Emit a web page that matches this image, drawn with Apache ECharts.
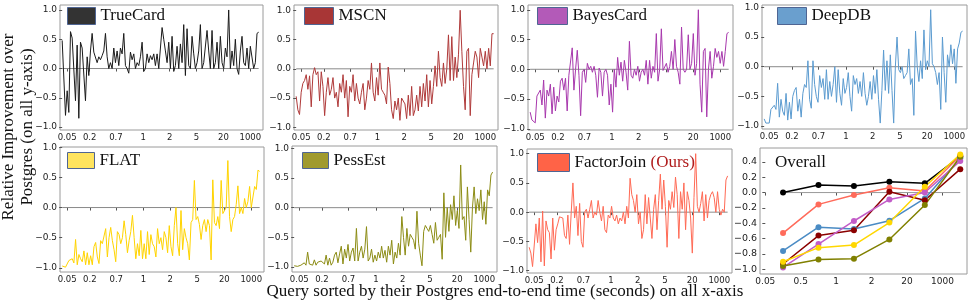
<!DOCTYPE html>
<html><head><meta charset="utf-8">
<script src="https://cdn.jsdelivr.net/npm/echarts@6/dist/echarts.min.js"></script>
<style>html,body{margin:0;padding:0;background:#fff}#c{width:970px;height:302px}</style>
</head><body><div id="c"></div>
<script>
// ---------------- data ----------------
const xTickPos = [3, 16.5, 32.3, 48.6, 64.6, 80.7, 96.9, 113];
const xTickLabels = ['0.05', '0.2', '0.7', '1', '2', '5', '20', '1000'];
const yTicks = [-1, -0.5, 0, 0.5, 1];

const overallTickPos = [0, 1, 2, 3, 4, 5];
const overallTickLabels = ['0.05', '0.5', '1', '2', '20', '1000'];
const overallX = [0.5, 1.5, 2.5, 3.5, 4.5, 5.5];
const overallYTicks = [-1, -0.8, -0.6, -0.4, -0.2, 0, 0.2, 0.4];

const trueCard = [
 0.48, 0.45, -0.8, -0.38, -0.75, 0.63, 0.52, 0.5, -0.55, 0.4,
 -0.85, 0.45, 0.35, 0.38, -0.55, 0.2, -0.12, 0.3, 0.6, 0.28,
 0.25, 0.1, 0.2, 0.15, 0.22, 0.3, 0.6, 0.2, 0.0, 0.1,
 0.0, 0.35, 0.1, 0.3, 0.05, 0.35, 0.25, 0.6, 0.05, 0.0,
 -0.08, 0.28, 0.15, 0.25, 0.0, 0.1, 0.05, 0.2, 0.45, -0.05,
 0.0, 0.25, 0.1, 0.22, 0.15, 0.25, 0.05, 0.25, 0.0, -0.02,
 0.7, 0.5, 0.3, 0.1, 0.45, 0.0, 0.55, -0.05, 0.05, 0.38,
 0.0, 0.42, 0.1, 0.75, -0.12, 0.68, 0.05, 0.0, 0.55, 0.25,
 0.0, 0.1, 0.3, 0.75, 0.0, 0.1, 0.1, 0.65, 0.3, 0.0,
 0.65, 0.0, 0.1, 0.45, 0.0, 0.55, 0.1, 0.0, 0.35, 0.2,
 1.0, 0.0, 0.3, 0.05, 0.5, 0.0, -0.1, 0.3, 0.55, 0.1,
 0.05, 0.35, 0.0, 0.38, 0.35, 0.0, 0.1, 0.6, 0.62
];
const mscn = [
 -0.47, -0.7, -0.78, -0.4, -0.25, -0.2, -0.1, -0.35, -0.12, -0.65,
 -0.1, 0.02, -0.1, -0.05, -0.55, -0.05, -0.3, -0.8, -0.4, -0.15,
 -0.45, -0.35, -0.15, -0.5, -0.4, -0.65, -0.25, -0.4, -0.1, -0.5,
 -0.2, -0.82, -0.3, -0.4, -0.1, -0.55, -0.25, -0.5, -0.6, -0.4,
 -0.25, -0.7, -0.5, -0.2, -0.35, 0.1, -0.4, -0.55, -0.15, -0.45,
 0.1, -0.35, -0.4, -0.45, -0.6, 0.03, -0.25, -0.7, -0.85, -0.55,
 -0.7, -0.5, -0.88, -0.5, -0.55, -0.6, -0.85, -0.45, -0.8, -0.3,
 -0.8, -0.7, -0.45, -0.72, -0.3, -0.65, -0.25, -0.55, -0.1, -0.65,
 -0.2, -0.6, -0.3, 0.05, -0.3, 0.3, -0.15, -0.3, 0.1, -0.25,
 0.0, 0.58, -0.2, 0.55, -0.2, 0.2, -0.15, 0.25, 1.0, 0.3,
 -0.3, -0.7, 0.3, 0.35, -0.8, -0.1, 0.1, 0.3, 0.2, -0.15,
 0.35, 0.2, 0.05, 0.3, 0.0, 0.35, 0.05, 0.6, 0.6
];
const bayesCard = [
 -0.72, -0.85, -0.87, -0.9, -0.45, -0.42, -0.35, -0.6, -0.18, -0.82,
 -0.35, -0.45, -0.25, -0.75, -0.3, -0.7, -0.45, -0.55, -0.2, -0.15,
 -0.35, -0.15, -0.7, -0.1, -0.12, 0.36, -0.35, 0.0, 0.32, -0.1,
 -0.78, -0.05, 0.0, -0.22, 0.1, 0.0, 0.05, -0.05, 0.05, -0.1,
 -0.47, 0.02, -0.05, -0.45, -0.05, 0.0, -0.1, -0.6, -0.25, -0.72,
 0.0, -0.3, 0.2, -0.1, 0.12, -0.2, 0.15, -0.05, -0.35, 0.47,
 -0.1, -0.15, 0.0, -0.1, 0.05, -0.2, -0.05, 0.0, -0.1, 0.15,
 -0.25, 0.15, -0.15, 0.05, -0.05, 0.6, -0.2, 0.0, 0.68, -0.02,
 0.0, 0.1, -0.05, 0.05, 0.3, 0.0, 0.5, 0.05, -0.05, -0.25,
 0.71, 0.0, -0.05, 0.0, 0.58, 0.0, 0.1, 0.6, -0.1, 0.1,
 1.0, -0.25, -0.72, 0.3, 0.35, -0.8, 0.0, 0.3, -0.15, 0.05,
 0.35, 0.2, 0.3, 0.1, 0.3, 0.05, 0.3, 0.6, 0.62
];
const deepDB = [
 -0.88, -0.95, -0.97, -0.95, -0.72, -0.7, -0.65, -0.72, -0.28, -0.85,
 -0.55, -0.75, -0.82, -0.45, -0.9, -0.6, -0.88, -0.5, -0.4, -0.35,
 -0.75, -0.55, -0.85, -0.45, -0.3, -0.35, 0.1, -0.55, -0.7, 0.1,
 -0.3, -0.5, -0.6, -0.15, -0.35, -0.2, -0.55, -0.05, -0.55, -0.25,
 -0.5, -0.3, 0.0, -0.6, -0.05, -0.45, -0.65, -0.2, -0.45, -0.35,
 -0.1, -0.5, -0.75, -0.15, -0.3, -0.2, -0.45, -0.25, -0.5, -0.1,
 -0.45, -0.65, -0.5, -0.25, -0.55, -0.15, -0.45, -0.05, -0.55, -0.95,
 -0.4, 0.28, -0.4, 0.1, -0.45, 0.2, -0.4, -0.95, 0.0, 0.5,
 -0.05, -0.1, 0.0, -0.2, -0.15, -0.1, 0.3, -0.3, -0.2, -0.82,
 0.6, 0.0, -0.25, 0.1, -0.2, 0.62, -0.05, 0.1, 0.0, 0.96,
 0.05, 0.0, -0.1, -0.3, -0.1, -0.72, 0.5, -0.1, -0.6, 0.2,
 0.0, 0.37, 0.05, 0.3, -0.28, 0.3, 0.4, 0.58, 0.6
];
const flat = [
 -0.97, -0.98, -0.99, -0.98, -0.88, -0.87, -0.85, -0.92, -0.53, -0.95,
 -0.78, -0.85, -0.9, -0.72, -0.95, -0.75, -0.95, -0.8, -0.95, -0.65,
 -0.58, -0.82, -0.93, -0.55, -0.6, -0.58, -0.35, -0.82, -0.5, -0.33,
 -0.55, -0.7, -0.9, -0.4, -0.45, -0.6, -0.5, -0.22, -0.45, -0.75,
 -0.55, -0.4, -0.13, -0.5, -0.85, -0.6, -0.8, -0.38, -0.85, -0.6,
 -0.85, -0.4, -0.78, -0.45, -0.6, -0.65, -0.82, -0.35, -0.6, -0.5,
 -0.7, -0.4, -0.5, -0.75, -0.3, -0.65, -0.8, -0.3, 0.0, -0.6,
 -0.8, -0.05, -0.7, -0.35, -0.5, -0.6, -0.87, -0.25, -0.2, 0.45,
 -0.2, -0.15, -0.28, -0.53, -0.3, -0.2, -0.4, -0.2, -0.3, -0.87,
 0.46, -0.25, -0.3, -0.15, -0.35, 0.45, -0.1, -0.05, 0.0, 0.78,
 -0.15, -0.4, -0.2, -0.15, 0.05, 0.36, -0.1, 0.0, -0.1, 0.15,
 0.0, 0.1, 0.35, 0.0, 0.0, 0.35, 0.3, 0.62, 0.6
];
const pessEst = [
 -0.98, -0.99, -0.99, -0.98, -0.97, -0.95, -0.93, -0.97, -0.75, -0.95,
 -0.93, -0.97, -0.88, -0.97, -0.92, -0.95, -0.9, -0.9, -0.95, -0.8,
 -0.97, -0.85, -0.97, -0.92, -0.8, -0.75, -0.93, -0.78, -0.65, -0.95,
 -0.7, -0.85, -0.62, -0.9, -0.75, -0.68, -0.9, -0.35, -0.9, -0.75,
 -0.65, -0.85, -0.7, -0.32, -0.9, -0.85, -0.7, -0.92, -0.8, -0.9,
 -0.75, -0.85, -0.65, -0.85, -0.72, -0.92, -0.65, -0.8, -0.55, -0.95,
 -0.75, -0.85, -0.6, -0.8, -0.15, -0.5, -0.8, -0.35, -0.65, -0.45,
 -0.5, -0.55, -0.7, -0.06, -0.6, -0.8, -0.98, -0.4, -0.3, -0.35,
 -0.4, -0.3, -0.45, -0.6, -0.25, -0.55, -0.5, -0.45, -0.87, 0.25,
 -0.5, 0.0, -0.4, 0.05, -0.2, 0.2, -0.3, -0.05, -0.35, 0.72,
 -0.2, -0.15, -0.55, 0.35, -0.2, -0.75, 0.0, 0.35, -0.1, 0.15,
 -0.05, 0.3, -0.2, 0.1, -0.28, 0.3, 0.2, 0.55, 0.6
];
const factorJoin = [
 -0.6, -0.7, -0.93, -0.9, -0.2, -0.52, -0.1, -0.85, 0.02, -0.92,
 -0.15, -0.3, -0.35, -0.8, -0.1, -0.65, -0.3, -0.2, -0.08, -0.05,
 -0.1, -0.4, -0.45, -0.05, -0.55, 0.0, 0.5, -0.1, 0.1, -0.4,
 0.15, -0.5, -0.6, 0.0, 0.05, -0.1, 0.05, 0.2, -0.1, 0.0,
 -0.05, 0.2, 0.0, -0.15, 0.1, -0.3, -0.35, -0.05, -0.1, 0.1,
 -0.1, -0.15, -0.05, -0.2, -0.1, -0.15, 0.0, -0.2, 0.1, -0.1,
 0.58, 0.3, 0.2, 0.0, 0.3, -0.2, 0.0, -0.45, -0.3, 0.3,
 -0.2, 0.25, -0.1, -0.45, 0.05, 0.3, -0.3, 0.2, 0.65, 0.05,
 0.55, 0.1, -0.6, 0.2, 0.05, 0.35, 0.08, 0.6, 0.3, -0.45,
 0.35, 0.05, 0.5, -0.3, 0.35, 0.2, -0.1, -0.7, 0.25, 1.0,
 0.1, 0.0, 0.15, 0.35, -0.15, 0.3, -0.1, 0.2, 0.3, 0.35,
 0.25, 0.0, 0.35, 0.05, -0.05, 0.05, 0.0, 0.55, 0.62
];

const overallTrueCard   = [0.0, 0.098, 0.085, 0.14, 0.12, 0.47];
const overallMSCN       = [-0.93, -0.56, -0.49, 0.01, -0.10, 0.305];
const overallBayesCard  = [-0.975, -0.67, -0.37, -0.09, 0.0, 0.41];
const overallDeepDB     = [-0.76, -0.45, -0.475, -0.366, -0.076, 0.445];
const overallFLAT       = [-0.90, -0.717, -0.683, -0.39, 0.076, 0.497];
const overallPessEst    = [-0.956, -0.87, -0.86, -0.61, -0.163, 0.466];
const overallFactorJoin = [-0.527, -0.154, -0.033, 0.063, 0.02, 0.48];

// ---------------- styling / layout ----------------
const LABEL_FONT = 'DejaVu Sans';
const SERIF = 'Liberation Serif';
const panels = [
  {name: 'TrueCard',   data: trueCard,   line: '#1a1a1a', box: '#333333', g: [60, 5, 203, 125],  y: [-1.05, 1.085], lg: [67, 7, 28, 17]},
  {name: 'MSCN',       data: mscn,       line: '#b03a3a', box: '#a83636', g: [294, 5, 204, 125], y: [-1.045, 1.09], lg: [304, 7, 29, 17]},
  {name: 'BayesCard',  data: bayesCard,  line: '#a838ad', box: '#b35ab8', g: [528, 5, 205, 125], y: [-1.02, 1.08],  lg: [537, 7, 30, 17]},
  {name: 'DeepDB',     data: deepDB,     line: '#5b9bd0', box: '#6a9fce', g: [762, 5, 205, 124], y: [-1.05, 1.04],  lg: [777, 7, 29, 17]},
  {name: 'FLAT',       data: flat,       line: '#ffd400', box: '#ffe45e', g: [60, 147, 204, 125], y: [-1.07, 1.005], lg: [67, 152, 27, 16]},
  {name: 'PessEst',    data: pessEst,    line: '#8c8c14', box: '#a09a2e', g: [292, 146, 205, 126], y: [-1.085, 1.04], lg: [302, 152, 26, 16]},
  {name: 'FactorJoin', data: factorJoin, line: '#ff6a55', box: '#ff6347', g: [527, 149, 205, 124], y: [-1.04, 1.08],  lg: [537, 153, 32, 18], ours: true}
];
const overallSeries = [
  {data: overallTrueCard, color: '#000000'},
  {data: overallFactorJoin, color: '#ff6b5b'},
  {data: overallDeepDB, color: '#4a8bc4'},
  {data: overallMSCN, color: '#8b0000'},
  {data: overallBayesCard, color: '#c25cc8'},
  {data: overallPessEst, color: '#808000'},
  {data: overallFLAT, color: '#ffd700'}
];
const overallGrid = [760, 148, 207, 126];
const overallY = [-1.06, 0.58];
const xRange = [-1.3, 120.6];

const fmtY = v => (v < 0 ? '\u2212' : '') + Math.abs(v).toFixed(1);

const grids = [], xAxes = [], yAxes = [], series = [], legends = [];
panels.forEach((p, i) => {
  grids.push({left: p.g[0], top: p.g[1], width: p.g[2], height: p.g[3], show: true, borderColor: '#9a9a9a', borderWidth: 1, backgroundColor: 'transparent'});
  xAxes.push({
    type: 'value', gridIndex: i, min: xRange[0], max: xRange[1],
    axisLine: {show: false}, splitLine: {show: false},
    axisTick: {show: true, length: 3, customValues: xTickPos, lineStyle: {color: '#555'}},
    axisLabel: {customValues: xTickPos, formatter: v => xTickLabels[xTickPos.indexOf(v)], fontFamily: LABEL_FONT, fontSize: 8.5, color: '#222', margin: 3}
  });
  yAxes.push({
    type: 'value', gridIndex: i, min: p.y[0], max: p.y[1],
    axisLine: {show: false}, splitLine: {show: false},
    axisTick: {show: true, length: 3, customValues: yTicks, lineStyle: {color: '#555'}},
    axisLabel: {customValues: yTicks, formatter: fmtY, fontFamily: LABEL_FONT, fontSize: 9, color: '#222', margin: 3}
  });
  series.push({
    type: 'line', xAxisIndex: i, yAxisIndex: i, silent: true, showSymbol: false, symbol: 'none',
    data: [[0, 0], [p.data.length - 1, 0]], lineStyle: {color: '#8a8a8a', width: 1}, z: 1
  });
  series.push({
    name: p.name, type: 'line', xAxisIndex: i, yAxisIndex: i, showSymbol: false, symbol: 'none',
    data: p.data.map((v, k) => [k, v]), lineStyle: {color: p.line, width: 1}, itemStyle: {color: p.line}, z: 2
  });
  legends.push({
    left: p.lg[0], top: p.lg[1], padding: 0, itemWidth: p.lg[2], itemHeight: p.lg[3], selectedMode: false,
    data: [{name: p.name, icon: 'rect', itemStyle: {color: p.box, borderColor: '#4f6593', borderWidth: 1}}],
    formatter: p.ours ? (n => n + ' {r|(Ours)}') : (n => n),
    textStyle: {fontFamily: SERIF, fontSize: 17, color: '#111', rich: {r: {fontFamily: SERIF, fontSize: 17, color: '#b01c1c'}}}
  });
});
// overall panel
const oi = panels.length;
grids.push({left: overallGrid[0], top: overallGrid[1], width: overallGrid[2], height: overallGrid[3], show: true, borderColor: '#9a9a9a', borderWidth: 1});
xAxes.push({
  type: 'value', gridIndex: oi, min: -0.15, max: 5.69,
  axisLine: {show: false}, splitLine: {show: false},
  axisTick: {show: true, length: 3, customValues: overallTickPos, lineStyle: {color: '#555'}},
  axisLabel: {customValues: overallTickPos, formatter: v => overallTickLabels[overallTickPos.indexOf(v)], fontFamily: LABEL_FONT, fontSize: 9, color: '#222', margin: 3}
});
yAxes.push({
  type: 'value', gridIndex: oi, min: overallY[0], max: overallY[1],
  axisLine: {show: false}, splitLine: {show: false},
  axisTick: {show: true, length: 3, customValues: overallYTicks, lineStyle: {color: '#555'}},
  axisLabel: {customValues: overallYTicks, formatter: fmtY, fontFamily: LABEL_FONT, fontSize: 9.5, color: '#222', margin: 3}
});
series.push({
  type: 'line', xAxisIndex: oi, yAxisIndex: oi, silent: true, symbol: 'none',
  data: [[overallX[0], 0], [overallX[overallX.length - 1], 0]], lineStyle: {color: '#9a9a9a', width: 1}, z: 1
});
overallSeries.forEach(s => {
  series.push({
    type: 'line', xAxisIndex: oi, yAxisIndex: oi, symbol: 'circle', symbolSize: 6, showSymbol: true,
    data: s.data.map((v, k) => [overallX[k], v]),
    lineStyle: {color: s.color, width: 1.5}, itemStyle: {color: s.color}, z: 2
  });
});

const chart = echarts.init(document.getElementById('c'), null, {renderer: 'canvas'});
chart.setOption({
  animation: false,
  backgroundColor: '#ffffff',
  grid: grids, xAxis: xAxes, yAxis: yAxes, series: series, legend: legends,
  graphic: [
    {type: 'text', x: 9, y: 127, rotation: Math.PI / 2, style: {text: 'Relative Improvement over', font: '17px "Liberation Serif"', fill: '#111', textAlign: 'center', textVerticalAlign: 'middle'}},
    {type: 'text', x: 28, y: 127, rotation: Math.PI / 2, style: {text: 'Postgres (on all y-axis)', font: '17px "Liberation Serif"', fill: '#111', textAlign: 'center', textVerticalAlign: 'middle'}},
    {type: 'text', x: 505, y: 292, style: {text: 'Query sorted by their Postgres end-to-end time (seconds) on all x-axis', font: '17px "Liberation Serif"', fill: '#111', textAlign: 'center', textVerticalAlign: 'middle'}},
    {type: 'text', x: 775, y: 163, style: {text: 'Overall', font: '17px "Liberation Serif"', fill: '#111', textAlign: 'left', textVerticalAlign: 'middle'}}
  ]
});
</script>
</body></html>
